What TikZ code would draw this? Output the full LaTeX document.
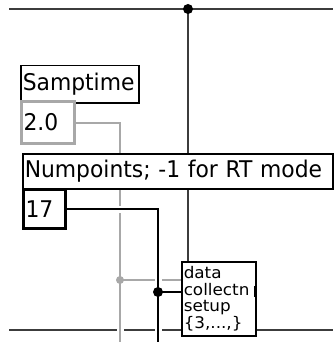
\documentclass[tikz,border=0pt]{standalone}
\usepackage{fontspec}
\setmainfont{DejaVu Sans}
\newfontfamily\lvfont[FakeStretch=0.95]{DejaVu Sans}
\newfontfamily\dcfont[FakeStretch=1.05]{DejaVu Sans}
\usetikzlibrary{positioning}
\pgfdeclarelayer{wires}
\pgfsetlayers{wires,main}

\definecolor{busgray}{HTML}{3C3C3C}
\definecolor{numgray}{HTML}{A8A8A8}

\tikzset{
  lblbox/.style={draw=black, line width=1.5pt, fill=white, anchor=north west,
    align=left, inner xsep=2pt, inner ysep=0pt, font=\lvfont\fontsize{23}{25}\selectfont},
  dblbox/.style={lblbox, line width=3pt, draw=numgray},
  intbox/.style={lblbox, line width=3pt},
  subvi/.style={draw=black, line width=1.5pt, fill=white, anchor=north west,
    align=left, inner xsep=2pt, inner ysep=0pt, text width=70pt,
    minimum height=74pt, font=\dcfont\fontsize{16}{16.5}\selectfont},
  gap/.style={preaction={draw=white, line width=7pt}},
  bus/.style={draw=busgray, line width=2pt},
}

\begin{document}
\begin{tikzpicture}[x=1pt, y=-1pt]
\useasboundingbox (0,0) rectangle (333,342);

% front panel terminals
\node[lblbox, text width=114pt, minimum height=37pt] (samplbl) at (20,65) {Samptime};
\node[dblbox, text width=49pt, minimum height=42pt] (sampval) at (20,100) {2.0};
\node[lblbox, text width=306pt, minimum height=35pt] (numlbl) at (22,153) {Numpoints; -1 for RT mode};
\node[intbox, text width=38pt, minimum height=39pt] (numval) at (22,188) {17};

% subVI
\node[subvi] (dcbox) at (181,261) {data\\collectn\\setup\\\{3,...,\}};

% junctions and free ends
\coordinate (topl) at (9,9);
\coordinate (topr) at (333,9);
\coordinate (topdot) at (188,9);
\coordinate (botl) at (9,330);
\coordinate (botr) at (333,330);
\coordinate (graydot) at (120,280);
\coordinate (blackdot) at (158,292);
\coordinate (botend) at (0,342);

\begin{pgfonlayer}{wires}
% error / refnum buses
\draw[bus] (topl) -- (topr);
\draw[bus] (botl) -- (botr);
\draw[bus] (topdot) -- (topdot |- dcbox.north);

% Samptime wire
\draw[numgray, line width=2pt, gap] (sampval.east) -| (graydot |- botend);
\draw[numgray, line width=2pt] (graydot) -- (dcbox.west |- graydot);

% Numpoints wire
\draw[black, line width=2pt, gap] (numval.east) -| (blackdot |- botend);
\draw[black, line width=2pt] (blackdot) -- (dcbox.west |- blackdot);
\end{pgfonlayer}

% dots
\fill[black] (topdot) circle (5pt);
\fill[numgray] (graydot) circle (4pt);
\fill[black] (blackdot) circle (5pt);

% output terminal
\draw[black, line width=3pt] ([xshift=-1pt, yshift=13pt]dcbox.east) -- ([xshift=-1pt, yshift=2pt]dcbox.east);

\end{tikzpicture}
\end{document}
